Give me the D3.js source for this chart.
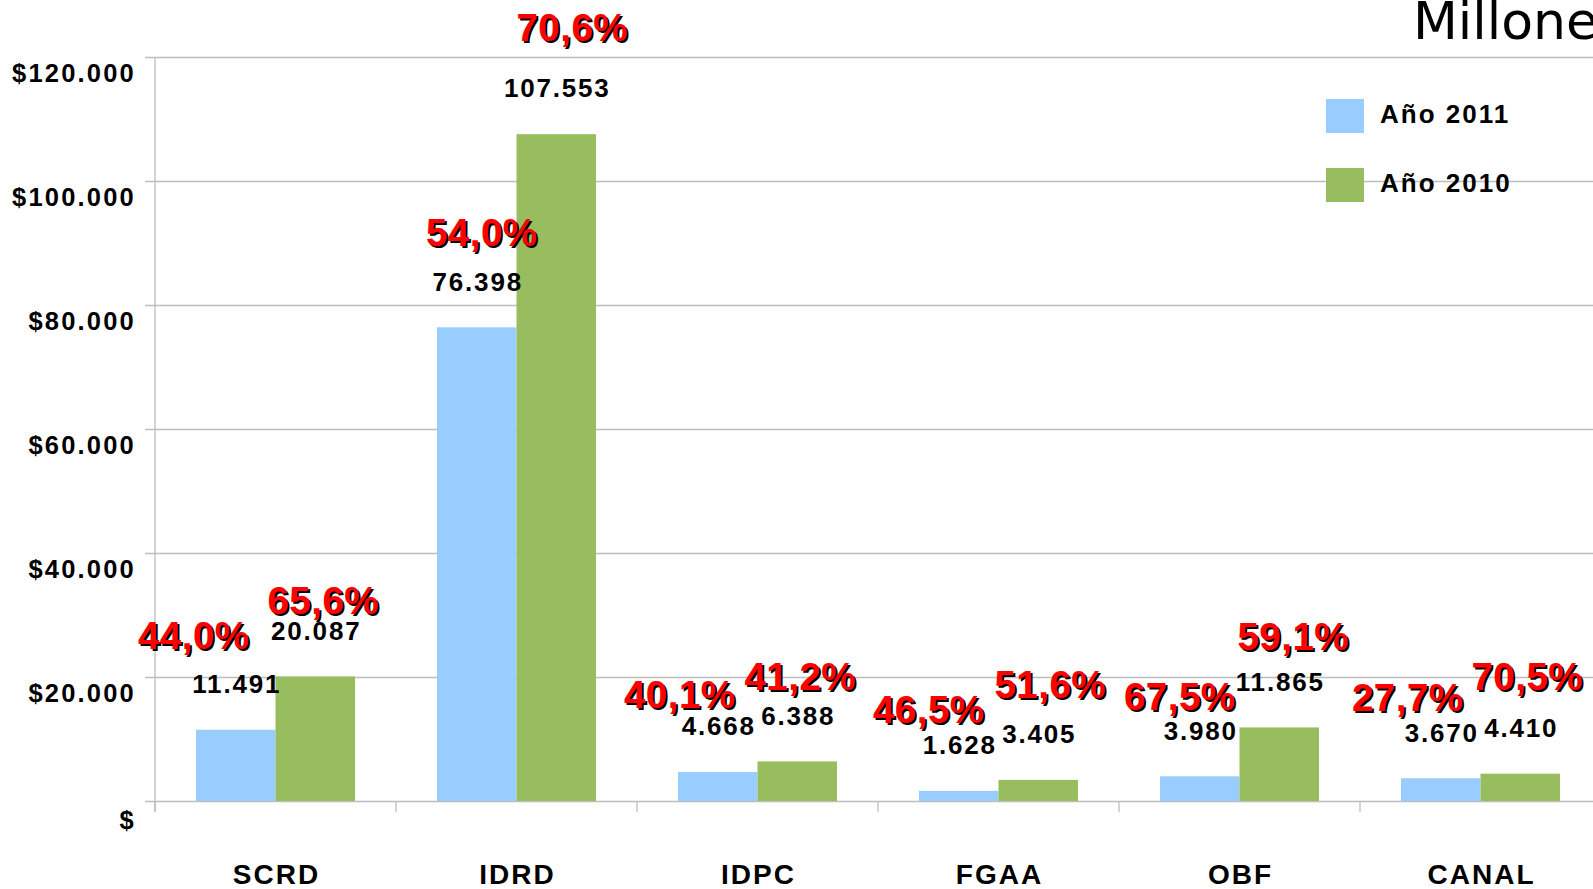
<!DOCTYPE html>
<html>
<head>
<meta charset="utf-8">
<script src="https://cdn.jsdelivr.net/npm/d3@7"></script>
<style>
  html, body { margin: 0; padding: 0; background: #fff; overflow: hidden; }
  svg { display: block; }
  text { font-family: "Liberation Sans", Arial, sans-serif; }
</style>
</head>
<body>
<svg id="chart" width="1593" height="889"></svg>
<script>
// ---- data ----
const categories = ["SCRD", "IDRD", "IDPC", "FGAA", "OBF", "CANAL"];
const seriesNames = ["Año 2011", "Año 2010"];
const values2011 = [11491, 76398, 4668, 1628, 3980, 3670];
const values2010 = [20087, 107553, 6388, 3405, 11865, 4410];
const pct2011 = [44.0, 54.0, 40.1, 46.5, 67.5, 27.7];
const pct2010 = [65.6, 70.6, 41.2, 51.6, 59.1, 70.5];
const yTickValues = [0, 20000, 40000, 60000, 80000, 100000, 120000];
const yTickLabels = ["$", "$20.000", "$40.000", "$60.000", "$80.000", "$100.000", "$120.000"];
const unitTitle = "Millones";

// ---- layout / style (not data) ----
const colors = ["#99ccff", "#97bd5f"];
// manual nudges of the red percentage labels relative to their value label (px)
const pctNudge2011 = [[-42, -48], [5, -49], [-38, -32], [-30, -36], [-20, -34], [-33, -35]];
const pctNudge2010 = [[8, -30], [16, -61], [3, -39], [12, -49], [14, -45], [7, -51]];

const svg = d3.select("#chart");
const plotLeft = 155, plotTop = 57, plotBottom = 801, bandW = 241;
const plotRight = plotLeft + bandW * categories.length;

const x = d3.scaleBand().domain(categories).range([plotLeft, plotRight]).paddingInner(0).paddingOuter(0);
const x1 = d3.scaleBand().domain(seriesNames).range([41, 200]);
const y = d3.scaleLinear().domain([0, 120000]).range([plotBottom, plotTop]);

const loc = d3.formatLocale({ decimal: ",", thousands: ".", grouping: [3], currency: ["$", ""] });
const fmtVal = loc.format(",d");
const fmtPct = v => loc.format(".1f")(v) + "%";

const gridColor = "#bdbdbd";

// y gridlines & ticks
const yAxis = d3.axisLeft(y).tickValues(yTickValues).tickSize(-(plotRight - plotLeft)).tickFormat("");
const gy = svg.append("g").attr("transform", `translate(${plotLeft},0)`).call(yAxis);
gy.select(".domain").remove();
gy.selectAll(".tick line").attr("stroke", gridColor).attr("stroke-width", 1.3).attr("x1", -10);

// y tick labels (sit below the gridline)
svg.append("g").selectAll("text").data(yTickValues).join("text")
  .attr("x", 136)
  .attr("y", (d, i) => y(d) + 16 + 0.358 * 25.5 + (i === 0 ? 3 : 0))
  .attr("text-anchor", "end")
  .attr("font-size", 25.5).attr("font-weight", "bold").attr("letter-spacing", 2.2)
  .attr("fill", "#000")
  .text((d, i) => yTickLabels[i]);

// vertical axis line
svg.append("line").attr("x1", plotLeft).attr("x2", plotLeft).attr("y1", plotTop).attr("y2", plotBottom + 10)
  .attr("stroke", gridColor).attr("stroke-width", 1.3);

// x axis ticks
const xAxis = d3.axisBottom(x).tickSize(0).tickFormat("");
const gx = svg.append("g").attr("transform", `translate(0,${plotBottom})`).call(xAxis);
gx.select(".domain").remove();
svg.append("g").selectAll("line").data(categories).join("line")
  .attr("x1", d => x(d)).attr("x2", d => x(d))
  .attr("y1", plotBottom).attr("y2", plotBottom + 11)
  .attr("stroke", gridColor).attr("stroke-width", 1.3);

// category labels
svg.append("g").selectAll("text").data(categories).join("text")
  .attr("x", d => x(d) + x.bandwidth() / 2 + 1)
  .attr("y", 884)
  .attr("text-anchor", "middle")
  .attr("font-size", 28).attr("font-weight", "bold").attr("letter-spacing", 2)
  .attr("fill", "#000")
  .text(d => d);

// bars
const seriesVals = [values2011, values2010];
const seriesPct = [pct2011, pct2010];
const nudges = [pctNudge2011, pctNudge2010];
seriesNames.forEach((s, si) => {
  svg.append("g").selectAll("rect").data(categories).join("rect")
    .attr("x", d => x(d) + x1(s))
    .attr("width", x1.bandwidth())
    .attr("y", (d, i) => y(seriesVals[si][i]))
    .attr("height", (d, i) => plotBottom - y(seriesVals[si][i]))
    .attr("fill", colors[si]);
});

// value labels and percentage labels
seriesNames.forEach((s, si) => {
  const g = svg.append("g");
  categories.forEach((c, i) => {
    const cx = x(c) + x1(s) + x1.bandwidth() / 2;
    const cy = y(seriesVals[si][i]) - 46;
    g.append("text")
      .attr("x", cx + 1).attr("y", cy + 0.358 * 26)
      .attr("text-anchor", "middle")
      .attr("font-size", 26).attr("font-weight", "bold").attr("letter-spacing", 1.8)
      .attr("fill", "#000")
      .text(fmtVal(seriesVals[si][i]));
    const [dx, dy] = nudges[si][i];
    const px = cx + dx, py = cy + dy + 0.358 * 38;
    g.append("text")
      .attr("x", px + 2).attr("y", py + 2)
      .attr("text-anchor", "middle")
      .attr("font-size", 38.5).attr("font-weight", "bold").attr("letter-spacing", 0.5)
      .attr("fill", "#000")
      .text(fmtPct(seriesPct[si][i]));
    g.append("text")
      .attr("x", px).attr("y", py)
      .attr("text-anchor", "middle")
      .attr("font-size", 38.5).attr("font-weight", "bold").attr("letter-spacing", 0.5)
      .attr("fill", "#ff0000")
      .text(fmtPct(seriesPct[si][i]));
  });
});

// legend
const legend = svg.append("g");
seriesNames.forEach((s, i) => {
  const ly = 99 + i * 69;
  legend.append("rect").attr("x", 1326).attr("y", ly).attr("width", 38).attr("height", 34).attr("fill", colors[i]);
  legend.append("text").attr("x", 1380).attr("y", ly + 24)
    .attr("font-size", 26).attr("font-weight", "bold").attr("letter-spacing", 2)
    .attr("fill", "#000").text(s);
});

// unit title (clipped at right edge as in the reference)
svg.append("text").attr("x", 1413).attr("y", 39)
  .style("font-family", "'DejaVu Sans', sans-serif")
  .attr("font-size", 52).attr("fill", "#000")
  .text(unitTitle);
</script>
</body>
</html>
